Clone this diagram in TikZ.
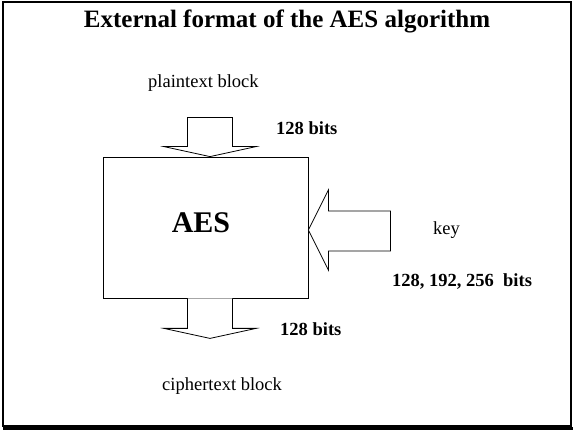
\documentclass[tikz,border=0pt]{standalone}
\usepackage{fontspec}
\setmainfont{Liberation Serif}
\usetikzlibrary{calc,positioning}

\begin{document}
\begin{tikzpicture}[x=1pt,y=-1pt,
  lbl/.style={inner sep=0pt,anchor=base west,font=\fontsize{18.5}{22}\selectfont},
  boldlbl/.style={lbl,font=\fontsize{18.5}{22}\selectfont\bfseries},
  blockarrow/.style={draw,line width=0.8pt,fill=white,line join=miter}]
\useasboundingbox (0,0) rectangle (573,430);
% frame with shadow
\fill[black] (3,426.5) rectangle (573,430);
\draw[line width=1.4pt] (3,2) rectangle (571,426);
\node[inner sep=0pt,anchor=base,font=\fontsize{25}{29}\selectfont\bfseries] (title) at (287,28) {External format of the AES algorithm};
% cipher box
\node[draw,line width=0.8pt,minimum width=205pt,minimum height=141pt,inner sep=0pt] (aes) at (205.5,227.5) {};
\node[inner sep=0pt,anchor=base,font=\fontsize{30}{34}\selectfont\bfseries] (aeslbl) at (201,233) {AES};
% block arrows
\coordinate (intip) at ($(aes.north)+(4.5,0)$);
\coordinate (outtop) at ($(aes.south)+(4.5,0)$);
\coordinate (keytip) at ($(aes.east)+(0,2.5)$);
\draw[blockarrow] (intip) -- ++(-46,-10) -- ++(23.5,0) -- ++(0,-29) -- ++(45,0) -- ++(0,29) -- ++(23.5,0) -- cycle;
\draw[blockarrow] (outtop) ++(-22.5,0) -- ++(0,30) -- ++(-23.5,0) -- ++(46,10) -- ++(46,-10) -- ++(-23.5,0) -- ++(0,-30);
\draw[blockarrow] (keytip) -- ++(20,-40) -- ++(0,21) -- ++(62,0) -- ++(0,40) -- ++(-62,0) -- ++(0,19) -- cycle;
% labels
\node[lbl] (plain) at (148,88) {plaintext block};
\node[boldlbl] (inbits) at (276,135) {128 bits};
\node[lbl] (key) at (433,235) {key};
\node[boldlbl] (keybits) at (392,287) {128, 192, 256\ \ bits};
\node[boldlbl] (outbits) at (280,335) {128 bits};
\node[lbl] (cipher) at (162,390) {ciphertext block};
\end{tikzpicture}
\end{document}
